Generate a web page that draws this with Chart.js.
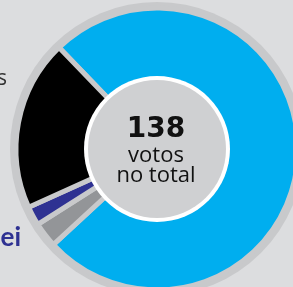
<!DOCTYPE html>
<html>
<head>
<meta charset="utf-8">
<script src="https://cdn.jsdelivr.net/npm/chart.js@4"></script>
<style>
  html, body { margin: 0; padding: 0; background: #dcdddf; overflow: hidden; }
  #wrap { position: absolute; left: 0; top: 0; width: 314px; height: 298px; }
</style>
</head>
<body>
<div id="wrap"><canvas id="votesChart"></canvas></div>
<script>
// partes do total de votos
const categories = ['Sim', 'Abstenções', 'Ausentes', 'Não'];
const votes = [104, 4, 3, 27];
const colors = ['#00aeef', '#939598', '#2e3192', '#000000'];
const totalLabel = '138';
const centerLines = ['votos', 'no total'];

const ringColor = '#c8c9cb';

const decorPlugin = {
    id: 'decor',
    beforeDatasetsDraw(chart) {
        const arc = chart.getDatasetMeta(0).data[0];
        const ctx = chart.ctx;
        ctx.save();
        ctx.fillStyle = ringColor;
        ctx.beginPath();
        ctx.arc(arc.x, arc.y, arc.outerRadius + 6, 0, Math.PI * 2);
        ctx.fill();
        ctx.restore();
    },
    afterDatasetsDraw(chart) {
        const arc = chart.getDatasetMeta(0).data[0];
        const ctx = chart.ctx;
        const cx = arc.x, cy = arc.y;
        ctx.save();
        ctx.fillStyle = '#ffffff';
        ctx.beginPath();
        ctx.arc(cx, cy, 73, 0, Math.PI * 2);
        ctx.fill();
        ctx.fillStyle = '#cfd0d2';
        ctx.beginPath();
        ctx.arc(cx, cy, 69, 0, Math.PI * 2);
        ctx.fill();

        ctx.textAlign = 'center';
        ctx.textBaseline = 'alphabetic';
        ctx.fillStyle = '#111111';
        ctx.font = 'bold 28px "DejaVu Sans"';
        ctx.fillText(totalLabel, cx - 1, cy - 12);
        ctx.font = '22px "Open Sans"';
        ctx.fillText(centerLines[0], cx - 1, cy + 13);
        ctx.fillText(centerLines[1], cx - 1, cy + 33);

        // rótulos laterais, cortados pela borda
        ctx.textAlign = 'right';
        ctx.fillStyle = '#333333';
        ctx.font = '21px "Open Sans"';
        ctx.fillText('Ausentes', 7, 85);
        ctx.fillStyle = '#2e3192';
        ctx.font = 'bold 26px Lato';
        ctx.fillText('Sei', 21, 246);
        ctx.restore();
    }
};

new Chart(document.getElementById('votesChart'), {
    type: 'doughnut',
    data: {
        labels: categories,
        datasets: [{
            data: votes,
            backgroundColor: colors,
            borderColor: ringColor,
            borderWidth: 5,
            hoverOffset: 0
        }]
    },
    options: {
        responsive: true,
        maintainAspectRatio: false,
        animation: false,
        rotation: -44,
        radius: 141,
        cutout: 72,
        layout: { padding: 0 },
        plugins: {
            legend: { display: false },
            tooltip: { enabled: false }
        }
    },
    plugins: [decorPlugin]
});
</script>
</body>
</html>
